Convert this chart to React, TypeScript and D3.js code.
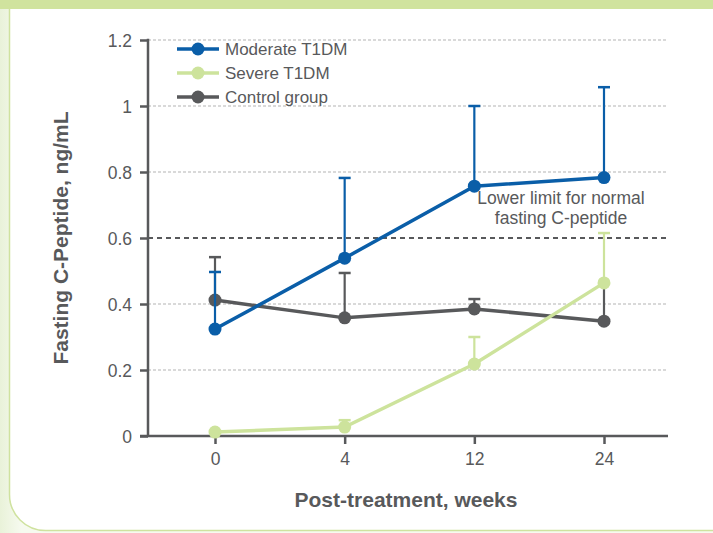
import React, { useEffect, useRef } from 'react';
import * as d3 from 'd3';

// weeks after treatment
const weeks = ['0', '4', '12', '24'];

// mean fasting C-peptide, ng/mL
const moderate = [0.324, 0.539, 0.757, 0.783];
const severe = [0.012, 0.027, 0.218, 0.464];
const control = [0.412, 0.358, 0.385, 0.348];

// upper end of the error bars (null = no bar)
const moderateUpper = [0.497, 0.782, 1.0, 1.057];
const severeUpper = [null, 0.048, 0.3, 0.615];
const controlUpper = [0.542, 0.494, 0.415, 0.465];

const yTicks = [0, 0.2, 0.4, 0.6, 0.8, 1, 1.2];
const lowerLimit = 0.6;

const seriesNames = ['Moderate T1DM', 'Severe T1DM', 'Control group'];

const W = 713;
const H = 533;
const FONT = '"Liberation Sans", Arial, sans-serif';
const TEXT = '#58595b';

export default function App() {
  const svgRef = useRef<SVGSVGElement>(null);

  useEffect(() => {
    const svg = d3.select(svgRef.current);
    svg.selectAll('*').remove();

    // background frame
    const grad = svg.append('defs').append('linearGradient').attr('id', 'bg');
    grad.append('stop').attr('offset', '0%').attr('stop-color', '#e9f2d9');
    grad.append('stop').attr('offset', '3%').attr('stop-color', '#f6faef');
    grad.append('stop').attr('offset', '100%').attr('stop-color', '#f6faef');
    svg.append('rect').attr('width', W).attr('height', H).attr('fill', 'url(#bg)');
    svg.append('rect')
      .attr('x', 9.5).attr('y', -40)
      .attr('width', W + 40).attr('height', H - 2 + 40 - 0.5)
      .attr('rx', 36)
      .attr('fill', '#fff')
      .attr('stroke', '#cfe29f')
      .attr('stroke-width', 1.5);
    svg.append('rect').attr('width', W).attr('height', 9).attr('fill', '#d0e39e');

    const x = d3.scalePoint<string>().domain(weeks).range([215, 604]);
    const y = d3.scaleLinear().domain([0, 1.2]).range([436, 40]);
    const left = 148;
    const right = 668;

    // grid
    svg.append('g')
      .selectAll('line')
      .data(yTicks.filter(t => t !== 0 && t !== lowerLimit))
      .join('line')
      .attr('x1', left).attr('x2', right)
      .attr('y1', d => y(d)).attr('y2', d => y(d))
      .attr('stroke', '#b3b3b3')
      .attr('stroke-width', 1)
      .attr('stroke-dasharray', '3,2');

    // reference line
    svg.append('line')
      .attr('x1', left).attr('x2', right)
      .attr('y1', y(lowerLimit)).attr('y2', y(lowerLimit))
      .attr('stroke', '#58595b')
      .attr('stroke-width', 2)
      .attr('stroke-dasharray', '5,4');

    svg.append('text')
      .attr('x', 561).attr('y', 204)
      .attr('text-anchor', 'middle')
      .attr('font-family', FONT).attr('font-size', 17.5)
      .attr('fill', TEXT)
      .selectAll('tspan')
      .data(['Lower limit for normal', 'fasting C-peptide'])
      .join('tspan')
      .attr('x', 561)
      .attr('dy', (d, i) => (i === 0 ? 0 : 19.5))
      .text(d => d);

    // axes
    const yAxis = svg.append('g')
      .attr('transform', `translate(${left},0)`)
      .call(d3.axisLeft(y).tickValues(yTicks).tickSize(8).tickSizeOuter(0).tickFormat(d3.format('~g')));
    const xAxis = svg.append('g')
      .attr('transform', `translate(0,${y(0)})`)
      .call(d3.axisBottom(x).tickSize(8).tickSizeOuter(0));

    [yAxis, xAxis].forEach(g => {
      g.select('.domain').remove();
      g.selectAll('line').attr('stroke', TEXT).attr('stroke-width', 2.5);
      g.selectAll('text')
        .attr('fill', TEXT)
        .attr('font-family', FONT)
        .attr('font-size', 17.5);
    });
    yAxis.selectAll('text').attr('x', -16).attr('dy', '0.36em');
    xAxis.selectAll('text').attr('y', 17).attr('dy', '0.71em');

    svg.append('line')
      .attr('x1', left).attr('x2', left).attr('y1', y(1.2) - 1.25).attr('y2', y(0))
      .attr('stroke', TEXT).attr('stroke-width', 2.5);
    svg.append('line')
      .attr('x1', left - 8).attr('x2', right).attr('y1', y(0)).attr('y2', y(0))
      .attr('stroke', TEXT).attr('stroke-width', 2.5);

    // axis titles
    svg.append('text')
      .attr('transform', `translate(68,${y(0.6)}) rotate(-90)`)
      .attr('text-anchor', 'middle')
      .attr('font-family', FONT).attr('font-size', 21).attr('font-weight', 'bold')
      .attr('fill', TEXT)
      .text('Fasting C-Peptide, ng/mL');
    svg.append('text')
      .attr('x', 406).attr('y', 507)
      .attr('text-anchor', 'middle')
      .attr('font-family', FONT).attr('font-size', 21).attr('font-weight', 'bold')
      .attr('fill', TEXT)
      .text('Post-treatment, weeks');

    const series = [
      { name: seriesNames[2], values: control, upper: controlUpper, color: '#58595b' },
      { name: seriesNames[0], values: moderate, upper: moderateUpper, color: '#0a5ea8' },
      { name: seriesNames[1], values: severe, upper: severeUpper, color: '#cde39c' },
    ];

    const line = d3.line<number>()
      .x((d, i) => x(weeks[i]) as number)
      .y(d => y(d));

    series.forEach(s => {
      const g = svg.append('g');
      const bars = s.upper
        .map((u, i) => ({ u, i }))
        .filter(d => d.u !== null) as { u: number; i: number }[];
      g.selectAll('line.err')
        .data(bars)
        .join('line')
        .attr('x1', d => x(weeks[d.i]) as number)
        .attr('x2', d => x(weeks[d.i]) as number)
        .attr('y1', d => y(s.values[d.i]))
        .attr('y2', d => y(d.u))
        .attr('stroke', s.color).attr('stroke-width', 2.2);
      g.selectAll('line.cap')
        .data(bars)
        .join('line')
        .attr('x1', d => (x(weeks[d.i]) as number) - 6)
        .attr('x2', d => (x(weeks[d.i]) as number) + 6)
        .attr('y1', d => y(d.u))
        .attr('y2', d => y(d.u))
        .attr('stroke', s.color).attr('stroke-width', 2.5);
      g.append('path')
        .attr('d', line(s.values))
        .attr('fill', 'none')
        .attr('stroke', s.color)
        .attr('stroke-width', 3.5);
      g.selectAll('circle')
        .data(s.values)
        .join('circle')
        .attr('cx', (d, i) => x(weeks[i]) as number)
        .attr('cy', d => y(d))
        .attr('r', 6.5)
        .attr('fill', s.color);
    });

    // legend
    const legendColors = ['#0a5ea8', '#cde39c', '#58595b'];
    const lg = svg.append('g');
    seriesNames.forEach((n, i) => {
      const ly = 49 + i * 24;
      lg.append('line')
        .attr('x1', 177).attr('x2', 219).attr('y1', ly).attr('y2', ly)
        .attr('stroke', legendColors[i]).attr('stroke-width', 3.5);
      lg.append('circle').attr('cx', 198).attr('cy', ly).attr('r', 6.5).attr('fill', legendColors[i]);
      lg.append('text')
        .attr('x', 225).attr('y', ly).attr('dy', '0.36em')
        .attr('font-family', FONT).attr('font-size', 17)
        .attr('fill', TEXT)
        .text(n);
    });
  }, []);

  return (
    <div style={{ position: 'absolute', left: 0, top: 0 }}>
      <svg ref={svgRef} width={W} height={H} style={{ display: 'block' }}></svg>
    </div>
  );
}
